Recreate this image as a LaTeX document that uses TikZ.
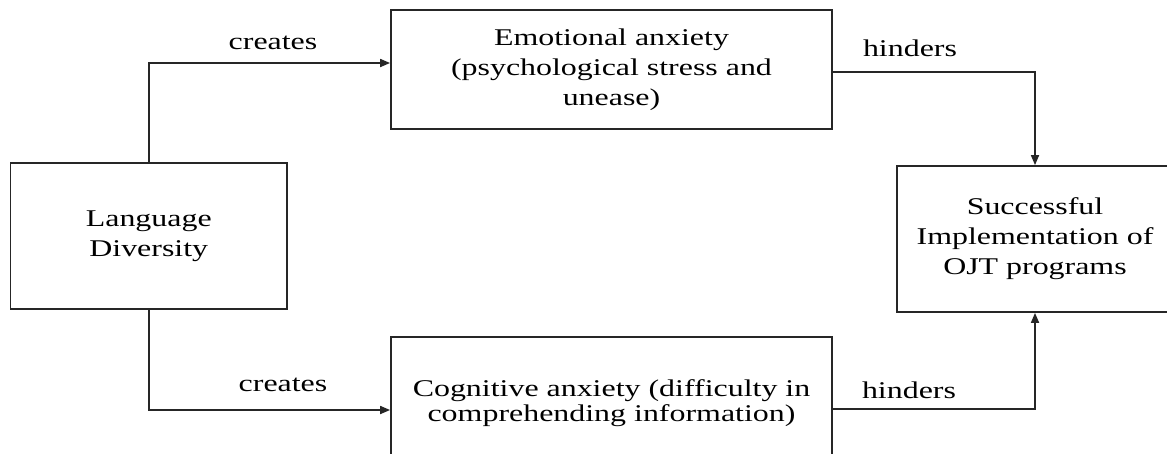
\documentclass[tikz,border=0pt]{standalone}
\usepackage{fontspec}
\setmainfont[FakeStretch=1.33]{Liberation Serif}
\usetikzlibrary{arrows.meta}
\begin{document}
\begin{tikzpicture}[x=1pt,y=-1pt,
  box/.style={draw=black!85,line width=1.8pt,align=center,inner sep=0pt,
    font=\fontsize{24}{30}\selectfont},
  lbl/.style={font=\fontsize{24}{30}\selectfont,inner sep=0pt},
  arr/.style={draw=black!85,line width=1.7pt,-{Triangle[length=10pt,width=8pt]}}]
\useasboundingbox (0,0) rectangle (1167,453);
\clip (0,0) rectangle (1167,453);
\fill[white] (0,0) rectangle (1167,453);
\node[box,minimum width=276.5pt,minimum height=146pt] (lang) at (148.75,236)
  {Language\\Diversity};
\node[box,minimum width=441pt,minimum height=119pt] (emo) at (611.5,69.5)
  {Emotional anxiety\\(psychological stress and\\unease)};
\node[box,minimum width=441pt,minimum height=132pt,
  font=\fontsize{24}{25}\selectfont] (cog) at (611.5,403)
  {Cognitive anxiety (difficulty in\\comprehending information)};
\node[box,minimum width=276pt,minimum height=146pt] (succ) at (1035,239)
  {Successful\\Implementation of\\OJT programs};
\draw[arr] (lang.north) |- ([yshift=6.5pt]emo.west);
\draw[arr] (lang.south) |- ([yshift=-7pt]cog.west);
\draw[arr] ([yshift=-2.5pt]emo.east) -| (succ.north);
\draw[arr] ([yshift=-6pt]cog.east) -| (succ.south);
\node[lbl] (c1) at (273,43) {creates};
\node[lbl] (c2) at (283,385) {creates};
\node[lbl] (h1) at (910,48) {hinders};
\node[lbl] (h2) at (909,390) {hinders};
\end{tikzpicture}
\end{document}
